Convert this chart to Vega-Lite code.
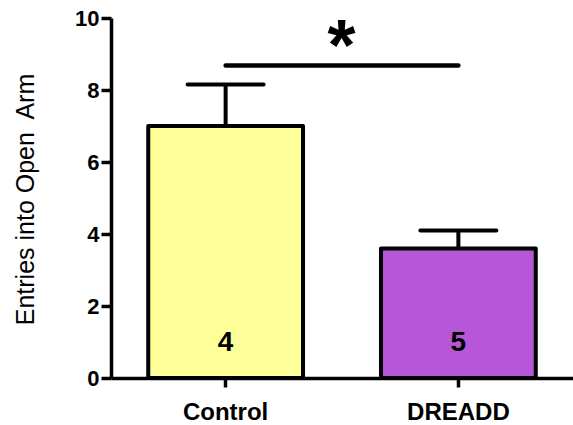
{
  "$schema": "https://vega.github.io/schema/vega-lite/v6.json",
  "width": 462,
  "height": 360,
  "autosize": {"type": "none"},
  "padding": {"left": 111, "top": 18, "right": 0, "bottom": 47},
  "background": "white",
  "config": {
    "font": "Liberation Sans",
    "view": {"stroke": null},
    "axis": {"grid": false, "domainColor": "black", "tickColor": "black", "labelColor": "black", "titleColor": "black", "domainWidth": 3.5, "tickWidth": 3.5}
  },
  "datasets": {
    "groups": [
      {"group": "Control", "mean": 7.0, "upper": 8.15, "n": "4"},
      {"group": "DREADD", "mean": 3.6, "upper": 4.1, "n": "5"}
    ],
    "sig": [
      {"from": "Control", "to": "DREADD", "y": 8.68, "label": "*", "ystar": 8.55}
    ]
  },
  "layer": [
    {
      "data": {"name": "groups"},
      "mark": {"type": "bar", "stroke": "black", "strokeWidth": 4, "strokeJoin": "round"},
      "encoding": {
        "x": {
          "field": "group", "type": "nominal", "sort": ["Control", "DREADD"],
          "scale": {"paddingInner": 0.335, "paddingOuter": 0.16},
          "axis": {"title": null, "labelAngle": 0, "labelFontSize": 24, "labelFontWeight": "bold", "tickSize": 9, "labelPadding": 13}
        },
        "y": {
          "field": "mean", "type": "quantitative",
          "scale": {"domain": [0, 10], "nice": false},
          "axis": {"title": "Entries into Open\u00a0 Arm", "values": [0, 2, 4, 6, 8, 10], "labelFontSize": 22, "labelFontWeight": "bold", "tickSize": 10, "labelPadding": 2, "titleFontSize": 25, "titleFontWeight": "normal", "titleX": -78, "titleY": 181, "titleBaseline": "alphabetic"}
        },
        "fill": {
          "field": "group", "type": "nominal",
          "scale": {"domain": ["Control", "DREADD"], "range": ["#FFFF99", "#B557D6"]},
          "legend": null
        }
      }
    },
    {
      "data": {"name": "groups"},
      "mark": {"type": "rule", "color": "black", "strokeWidth": 4},
      "encoding": {
        "x": {"field": "group", "type": "nominal", "sort": ["Control", "DREADD"]},
        "y": {"field": "mean", "type": "quantitative"},
        "y2": {"field": "upper"}
      }
    },
    {
      "data": {"name": "groups"},
      "mark": {"type": "tick", "color": "black", "size": 80, "thickness": 4, "cornerRadius": 2, "opacity": 1},
      "encoding": {
        "x": {"field": "group", "type": "nominal", "sort": ["Control", "DREADD"]},
        "y": {"field": "upper", "type": "quantitative"}
      }
    },
    {
      "data": {"name": "groups"},
      "mark": {"type": "text", "fontSize": 28, "fontWeight": "bold", "color": "black", "baseline": "alphabetic"},
      "encoding": {
        "x": {"field": "group", "type": "nominal", "sort": ["Control", "DREADD"]},
        "y": {"datum": 0.75},
        "text": {"field": "n"}
      }
    },
    {
      "data": {"name": "sig"},
      "mark": {"type": "rule", "color": "black", "strokeWidth": 4.5, "strokeCap": "round"},
      "encoding": {
        "x": {"field": "from", "type": "nominal"},
        "x2": {"field": "to"},
        "y": {"field": "y", "type": "quantitative"}
      }
    },
    {
      "data": {"name": "sig"},
      "mark": {"type": "text", "fontSize": 72, "fontWeight": "bold", "color": "black", "baseline": "alphabetic", "dx": 116},
      "encoding": {
        "x": {"field": "from", "type": "nominal"},
        "y": {"field": "ystar", "type": "quantitative"},
        "text": {"field": "label"}
      }
    }
  ]
}
